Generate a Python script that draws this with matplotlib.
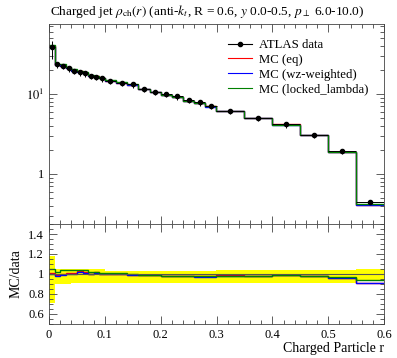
import numpy as np
import matplotlib
matplotlib.use('Agg')
import matplotlib.pyplot as plt
from matplotlib.lines import Line2D
from matplotlib.ticker import FixedLocator, MultipleLocator, NullFormatter

plt.rcParams['font.family'] = ['Liberation Serif', 'DejaVu Serif']
plt.rcParams['mathtext.fontset'] = 'stix'

# bin edges in r
edges = np.array([0.0, 0.01, 0.02, 0.03, 0.04, 0.05, 0.06, 0.07, 0.08, 0.09, 0.10,
                  0.12, 0.14, 0.16, 0.18, 0.20, 0.22, 0.24, 0.26, 0.28, 0.30,
                  0.35, 0.40, 0.45, 0.50, 0.55, 0.60])

# ATLAS data
data = np.array([39.0, 23.5, 22.6, 21.0, 19.6, 18.7, 18.1, 16.9, 16.3, 15.7,
                 14.7, 13.8, 13.2, 11.5, 10.7, 10.0, 9.36, 8.41, 7.87, 7.15,
                 6.18, 5.06, 4.18, 3.10, 1.96, 0.447])
# relative errors (up / down)
err_up = np.array([0.18, 0.05, 0.05, 0.05, 0.05, 0.05, 0.05, 0.05, 0.05, 0.05,
                   0.03, 0.03, 0.03, 0.03, 0.03, 0.03, 0.03, 0.03, 0.03, 0.03,
                   0.04, 0.04, 0.04, 0.04, 0.04, 0.05])
err_dn = np.array([0.29, 0.10, 0.10, 0.10, 0.09, 0.09, 0.09, 0.09, 0.09, 0.09,
                   0.09, 0.09, 0.09, 0.09, 0.09, 0.09, 0.09, 0.09, 0.09, 0.09,
                   0.09, 0.09, 0.09, 0.09, 0.09, 0.07])

# MC / data ratios
ratio_eq = np.array([1.01, 0.99, 1.00, 1.01, 1.01, 1.03, 1.02, 1.005, 1.02, 1.00,
                     1.00, 1.00, 0.99, 0.99, 0.99, 0.98, 0.98, 0.98, 0.98, 0.98,
                     0.99, 0.98, 0.995, 0.98, 0.96, 0.91])
ratio_wz = np.array([1.005, 0.985, 0.99, 1.00, 1.00, 1.02, 1.015, 1.00, 1.01, 1.00,
                     1.00, 1.00, 0.99, 0.99, 0.99, 0.98, 0.98, 0.98, 0.975, 0.975,
                     0.98, 0.98, 0.99, 0.98, 0.96, 0.91])
ratio_ll = np.array([1.05, 1.02, 1.04, 1.045, 1.04, 1.04, 1.04, 1.02, 1.02, 1.015,
                     1.01, 1.01, 1.00, 0.99, 0.99, 0.98, 0.98, 0.985, 0.98, 0.985,
                     0.985, 0.985, 0.99, 0.985, 0.97, 0.94])

series = [('MC (eq)', ratio_eq, 'red'),
          ('MC (wz-weighted)', ratio_wz, 'blue'),
          ('MC (locked_lambda)', ratio_ll, 'green')]

centers = 0.5 * (edges[1:] + edges[:-1])
halfw = 0.5 * np.diff(edges)

fig = plt.figure(figsize=(3.97, 3.58), dpi=100)
ax = fig.add_axes([49/397, 1-224/358, 335/397, 200/358])
rax = fig.add_axes([49/397, 1-324/358, 335/397, 100/358], sharex=ax)

# main panel
for label, r, c in series:
    ax.stairs(data * r, edges, color=c, lw=1.0, baseline=None)
ax.errorbar(centers, data, xerr=halfw, yerr=[data * err_dn, data * err_up],
            fmt='o', color='black', ms=3, lw=0.7, capsize=0)

ax.set_yscale('log')
ax.set_xlim(0, 0.6)
ax.set_ylim(0.237, 75)
ax.yaxis.set_major_locator(FixedLocator([1, 10]))
ax.set_yticklabels(['1', '$10^1$'])
ax.yaxis.set_minor_formatter(NullFormatter())
plt.setp(ax.get_xticklabels(), visible=False)

handles = [Line2D([], [], color='black', marker='o', ms=3, lw=0.8, label='ATLAS data')]
handles += [Line2D([], [], color=c, lw=0.8, label=lab) for lab, r, c in series]
ax.legend(handles=handles, loc='upper left', frameon=False, fontsize=9.2,
          handlelength=1.9, handletextpad=0.55, labelspacing=0.22,
          bbox_to_anchor=(0.534, 0.925), borderaxespad=0, borderpad=0)

fig.text(50/397, 1-12/358, r'Charged jet $\rho_{\mathrm{ch}}(r)$ (anti-$k_t$, R = 0.6, $y$ 0.0-0.5, $p_\perp$ 6.0-10.0)',
         fontsize=9.6, ha='left', va='center')

# ratio panel
rax.stairs(1 + err_up, edges, baseline=1 - err_dn, fill=True, color='#ffff00', lw=0)
rax.axhline(1.0, color='#555555', lw=0.8)
for label, r, c in series:
    rax.stairs(r, edges, color=c, lw=1.0, baseline=None)
rax.set_ylim(0.5, 1.5)
rax.yaxis.set_major_locator(FixedLocator([0.6, 0.8, 1.0, 1.2, 1.4]))
rax.set_yticklabels(['0.6', '0.8', '1', '1.2', '1.4'])
rax.yaxis.set_minor_locator(MultipleLocator(0.05))
rax.xaxis.set_minor_locator(MultipleLocator(0.02))
rax.set_xticks(np.arange(0, 0.61, 0.1))
rax.set_xticklabels(['0', '0.1', '0.2', '0.3', '0.4', '0.5', '0.6'])
rax.set_ylabel('MC/data', fontsize=10)
rax.set_xlabel('Charged Particle r', fontsize=10, loc='right', labelpad=1)

for a in (ax, rax):
    a.tick_params(which='both', direction='in', top=True, right=True,
                  labelsize=9, color='#444444')
    a.tick_params(which='major', length=6, width=0.6)
    a.tick_params(which='minor', length=3, width=0.6)
    for s in a.spines.values():
        s.set_color('#444444')
        s.set_linewidth(0.6)

fig.savefig('out.png', dpi=100)
